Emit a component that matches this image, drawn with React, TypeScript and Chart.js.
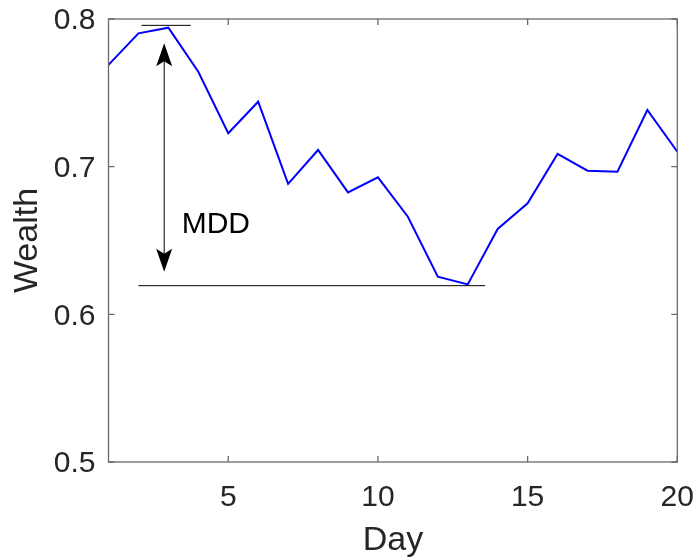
import React, { useEffect, useRef } from "react";
import { Chart, registerables } from "chart.js";

Chart.register(...registerables);

// ---- data ----
const days = [1, 2, 3, 4, 5, 6, 7, 8, 9, 10, 11, 12, 13, 14, 15, 16, 17, 18, 19, 20];
const wealth = [
  0.7689, 0.7903, 0.7941, 0.7643, 0.7226, 0.744, 0.6883, 0.7113, 0.6826, 0.6928,
  0.6661, 0.6255, 0.6203, 0.6578, 0.6752, 0.7086, 0.6973, 0.6966, 0.7384, 0.7101,
];
const xTicks = [5, 10, 15, 20];
const yTicks = [0.5, 0.6, 0.7, 0.8];
const xRange = [1, 20];
const yRange = [0.5, 0.8];

// annotation values (data coordinates)
const peakLineX = [2.1, 3.75];
const peakLineY = [0.7957, 0.7957];
const troughLineX = [2.0, 13.58];
const troughLineY = [0.6194, 0.6194];
const arrowX = 2.86;
const arrowYs = [0.7835, 0.6289];
const mddText = "MDD";
const mddPos = [3.445, 0.661];

const xTitle = "Day";
const yTitle = "Wealth";

const FONT = '"Liberation Sans", Arial, Helvetica, sans-serif';
const TEXT = "#262626";
const AXIS = "#6a6a6a";

const boxPlugin = {
  id: "boxAndAnnotations",
  afterDraw(chart: any) {
    const { ctx, chartArea, scales } = chart;
    const xs = scales.x;
    const ys = scales.y;
    const { left, right, top, bottom } = chartArea;
    ctx.save();
    // arrow
    const ax = xs.getPixelForValue(arrowX);
    const aTop = ys.getPixelForValue(arrowYs[0]);
    const aBot = ys.getPixelForValue(arrowYs[1]);
    ctx.strokeStyle = "#000";
    ctx.fillStyle = "#000";
    ctx.lineWidth = 1;
    ctx.beginPath();
    ctx.moveTo(ax, aTop + 10);
    ctx.lineTo(ax, aBot - 10);
    ctx.stroke();
    const headL = 23;
    const headW = 8;
    const notch = 5;
    const head = (tipY: number, dir: number) => {
      ctx.beginPath();
      ctx.moveTo(ax, tipY);
      ctx.lineTo(ax - headW, tipY + dir * headL);
      ctx.lineTo(ax, tipY + dir * (headL - notch));
      ctx.lineTo(ax + headW, tipY + dir * headL);
      ctx.closePath();
      ctx.fill();
    };
    head(aTop, 1);
    head(aBot, -1);
    // label
    ctx.font = `30px ${FONT}`;
    ctx.textAlign = "left";
    ctx.textBaseline = "middle";
    ctx.fillText(mddText, xs.getPixelForValue(mddPos[0]), ys.getPixelForValue(mddPos[1]));

    // box
    ctx.strokeStyle = AXIS;
    ctx.lineWidth = 1.3;
    ctx.strokeRect(left, top, right - left, bottom - top);
    // ticks on all four sides, pointing in
    const tl = 6;
    ctx.beginPath();
    xTicks.forEach((v) => {
      const px = xs.getPixelForValue(v);
      ctx.moveTo(px, bottom);
      ctx.lineTo(px, bottom - tl);
      ctx.moveTo(px, top);
      ctx.lineTo(px, top + tl);
    });
    yTicks.forEach((v) => {
      const py = ys.getPixelForValue(v);
      ctx.moveTo(left, py);
      ctx.lineTo(left + tl, py);
      ctx.moveTo(right, py);
      ctx.lineTo(right - tl, py);
    });
    ctx.stroke();
    ctx.restore();
  },
};

const zeroPad = (s: any) => {
  s.paddingLeft = 0;
  s.paddingRight = 0;
  s.paddingTop = 0;
  s.paddingBottom = 0;
};

export default function App() {
  const ref = useRef<HTMLCanvasElement | null>(null);

  useEffect(() => {
    if (!ref.current) return;
    const chart = new Chart(ref.current, {
      type: "line",
      data: {
        datasets: [
          {
            data: days.map((d, i) => ({ x: d, y: wealth[i] })),
            borderColor: "#0000ff",
            borderWidth: 2,
            pointRadius: 0,
            tension: 0,
            fill: false,
          },
          {
            data: peakLineX.map((x, i) => ({ x, y: peakLineY[i] })),
            borderColor: "#000000",
            borderWidth: 1,
            pointRadius: 0,
            fill: false,
          },
          {
            data: troughLineX.map((x, i) => ({ x, y: troughLineY[i] })),
            borderColor: "#000000",
            borderWidth: 1,
            pointRadius: 0,
            fill: false,
          },
        ],
      },
      options: {
        animation: false,
        responsive: true,
        maintainAspectRatio: false,
        layout: { padding: { top: 19, right: 18.7, left: 0, bottom: 0 } },
        plugins: { legend: { display: false }, tooltip: { enabled: false } },
        scales: {
          x: {
            type: "linear",
            min: xRange[0],
            max: xRange[1],
            afterBuildTicks: (s: any) => {
              s.ticks = xTicks.map((v) => ({ value: v }));
            },
            afterFit: (s: any) => {
              s.height = 96;
              zeroPad(s);
            },
            grid: { display: false, drawTicks: false },
            border: { display: false },
            ticks: {
              color: TEXT,
              font: { family: FONT, size: 30, lineHeight: 1 },
              padding: 20.6,
              maxRotation: 0,
              callback: (v: any) => String(v),
            },
            title: {
              display: true,
              text: xTitle,
              color: TEXT,
              font: { family: FONT, size: 34, lineHeight: 1 },
              padding: { top: 0, bottom: 0 },
            },
          },
          y: {
            type: "linear",
            min: yRange[0],
            max: yRange[1],
            afterBuildTicks: (s: any) => {
              s.ticks = yTicks.map((v) => ({ value: v }));
            },
            afterFit: (s: any) => {
              s.width = 108.5;
              zeroPad(s);
            },
            grid: { display: false, drawTicks: false },
            border: { display: false },
            ticks: {
              color: TEXT,
              font: { family: FONT, size: 30, lineHeight: 1 },
              padding: 13,
              labelOffset: 2,
              callback: (v: any) => Number(v).toFixed(1),
            },
            title: {
              display: true,
              text: yTitle,
              color: TEXT,
              font: { family: FONT, size: 34, lineHeight: 1 },
              padding: { top: 11, bottom: 0 },
            },
          },
        },
      },
      plugins: [boxPlugin],
    } as any);
    return () => chart.destroy();
  }, []);

  return (
    <div style={{ position: "absolute", left: 0, top: 0, width: 696, height: 558, background: "#fff" }}>
      <canvas ref={ref} />
    </div>
  );
}
